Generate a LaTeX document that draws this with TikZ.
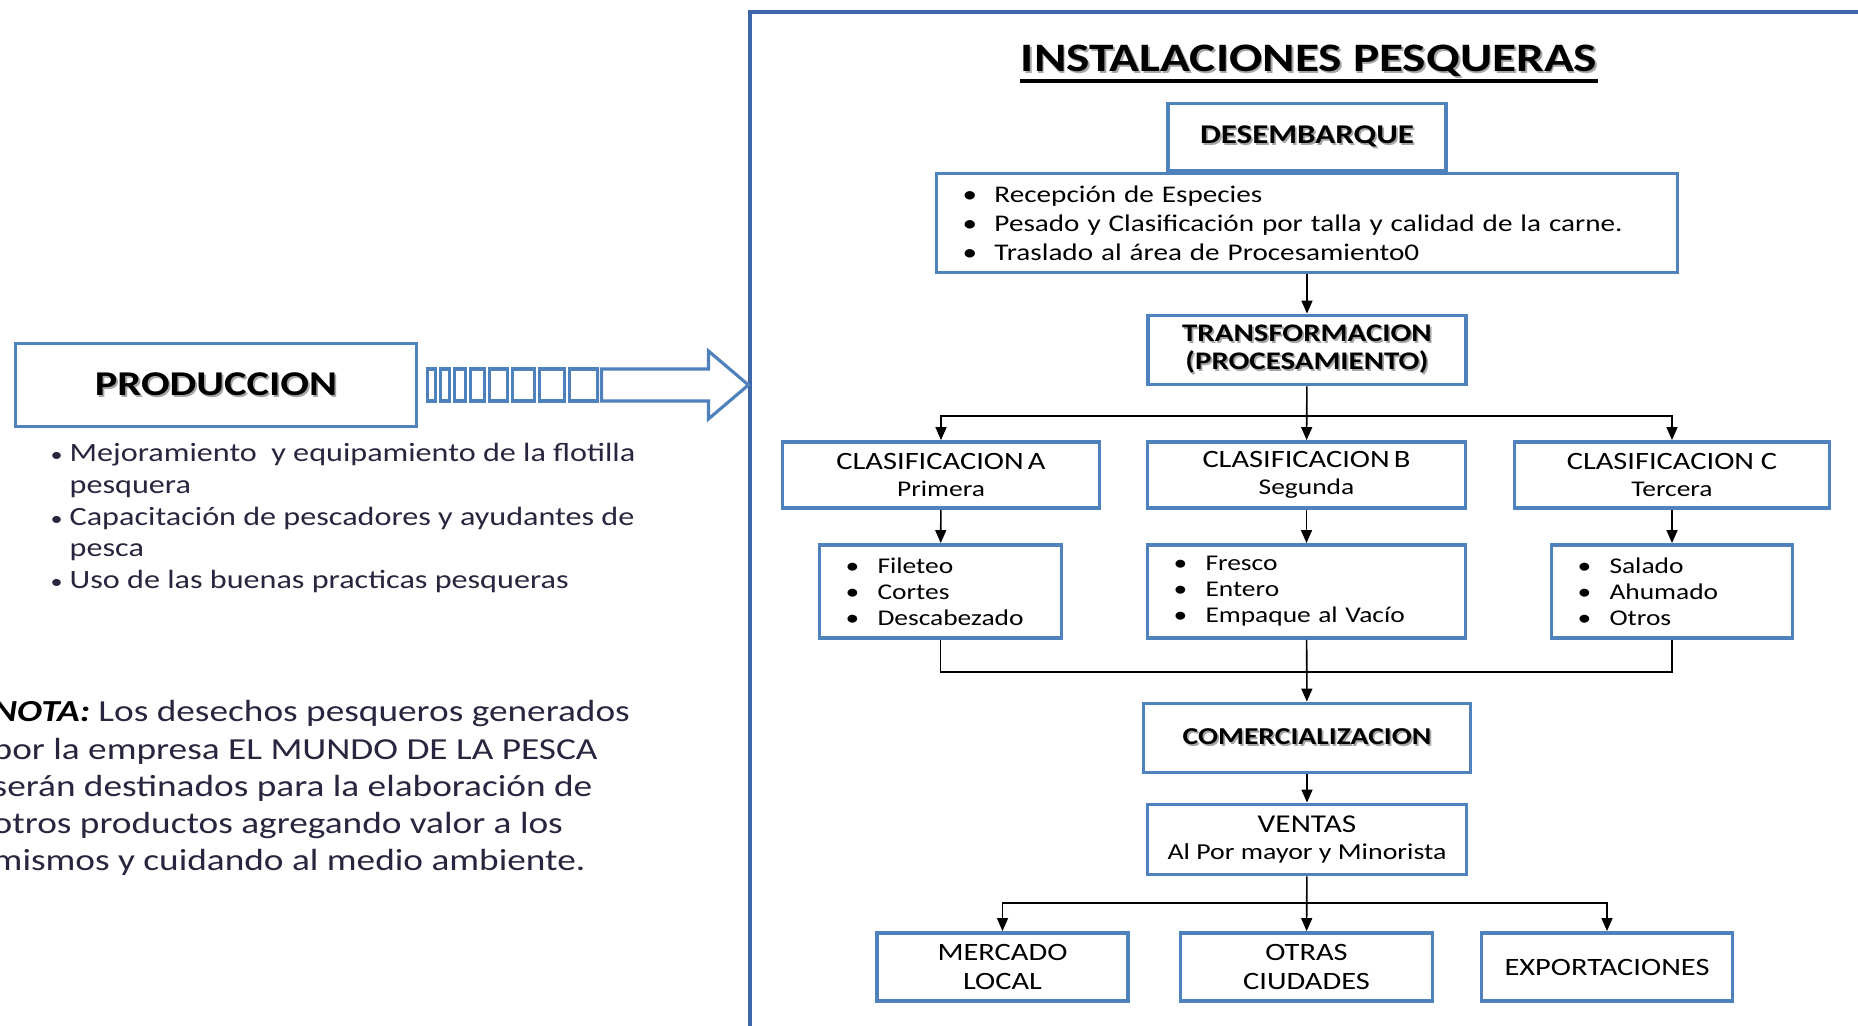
\documentclass[tikz,border=0pt]{standalone}
\usepackage{fontspec}
\setmainfont[FakeStretch=1.22]{Carlito}
\usepackage{xcolor}
\usepackage{tikz}
\usetikzlibrary{arrows.meta,positioning,calc}
\definecolor{boxblue}{RGB}{79,129,189}
\definecolor{frameblue}{RGB}{62,102,168}
\definecolor{inkblue}{RGB}{40,38,62}
\tikzset{
  box/.style={rectangle,draw=boxblue,line width=1.1pt,fill=white,align=center,inner sep=0pt},
  listbox/.style={box,align=left,inner xsep=0.26cm},
  clas/.style={box,minimum width=3.17cm,minimum height=0.66cm,font=\fontsize{7.1}{7.8}\selectfont},
  leaf/.style={box,minimum width=2.51cm,minimum height=0.68cm,font=\fontsize{7.1}{8}\selectfont},
  tiplist/.style={listbox,minimum height=0.93cm,font=\fontsize{6.4}{7.4}\selectfont},
  flow/.style={-{Triangle[length=1.3mm,width=1.1mm]},line width=0.45pt,draw=black},
  link/.style={line width=0.45pt,draw=black},
  frame/.style={draw=frameblue,line width=1.1pt},
}
\newcommand{\itm}{\makebox[0.32cm][l]{\textbullet}}
\newcommand{\pit}{\makebox[0.19cm][l]{\scalebox{0.75}{\textbullet}}}
\newcommand{\shd}[1]{\leavevmode\rlap{\hspace{0.5pt}\raisebox{-0.6pt}{\textcolor{black!35}{#1}}}#1}

\begin{document}
\begin{tikzpicture}
  \clip (0,0) rectangle (18.58,-10.26);
  \fill[white] (0,0) rectangle (18.58,-10.26);

  % right frame
  \draw[frame] (7.50,-0.12) rectangle (18.90,-10.50);
  \node[inner sep=0pt,font=\bfseries\fontsize{11.5}{13}\selectfont] (title) at (13.09,-0.62) {\shd{INSTALACIONES PESQUERAS}};
  \draw[line width=1.1pt] ([yshift=-2.6pt]title.base west) -- ([yshift=-2.6pt]title.base east);

  % main column
  \node[box,minimum width=2.78cm,minimum height=0.67cm,font=\bfseries\fontsize{7.7}{9}\selectfont] (desem) at (13.07,-1.37) {\shd{DESEMBARQUE}};
  \node[listbox,text width=6.89cm,minimum height=0.99cm,font=\fontsize{6.8}{8.25}\selectfont] (recep) at (13.07,-2.23)
    {\itm Recepción de Especies\\ \itm Pesado y Clasificación por talla y calidad de la carne.\\ \itm Traslado al área de Procesamiento0};
  \node[box,minimum width=3.18cm,minimum height=0.69cm,font=\bfseries\fontsize{7.2}{8.1}\selectfont] (transf) at (13.07,-3.50)
    {\shd{TRANSFORMACION}\\ \shd{(PROCESAMIENTO)}};

  \node[clas] (clasA) at (9.41,-4.75) {CLASIFICACION\,A\\{\fontsize{6.4}{7.8}\selectfont Primera}};
  \node[clas,minimum width=3.18cm] (clasB) at (13.065,-4.75) {CLASIFICACION\,B\\{\fontsize{6.4}{7.8}\selectfont Segunda}};
  \node[clas,minimum width=3.15cm] (clasC) at (16.72,-4.75) {CLASIFICACION C\\{\fontsize{6.4}{7.8}\selectfont Tercera}};

  \node[tiplist,text width=1.90cm] (tipA) at (9.405,-5.915) {\itm Fileteo\\ \itm Cortes\\ \itm Descabezado};
  \node[tiplist,text width=2.66cm] (tipB) at (13.065,-5.915) {\itm Fresco\\ \itm Entero\\ \itm Empaque al Vacío};
  \node[tiplist,text width=1.89cm] (tipC) at (16.72,-5.915) {\itm Salado\\ \itm Ahumado\\ \itm Otros};

  \node[box,minimum width=3.27cm,minimum height=0.69cm,font=\bfseries\fontsize{6.9}{8}\selectfont] (comer) at (13.07,-7.38) {\shd{COMERCIALIZACION}};
  \node[box,minimum width=3.19cm,minimum height=0.70cm,font=\fontsize{7.3}{7.8}\selectfont] (ventas) at (13.07,-8.395)
    {VENTAS\\{\fontsize{6.5}{7.8}\selectfont Al Por mayor y Minorista}};

  \node[leaf] (merc) at (10.025,-9.67) {MERCADO\\LOCAL};
  \node[leaf,minimum width=2.52cm] (otras) at (13.065,-9.67) {OTRAS\\CIUDADES};
  \node[leaf] (export) at (16.07,-9.67) {EXPORTACIONES};

  % connectors
  \coordinate (fork) at (13.07,-4.16);
  \coordinate (join) at (13.07,-6.72);
  \coordinate (fan) at (13.07,-9.03);
  \draw[flow] (recep) -- (transf);
  \draw[flow] (transf) -- (clasB);
  \draw[flow] (fork) -| (clasA);
  \draw[flow] (fork) -| (clasC);
  \draw[flow] (clasA) -- (tipA);
  \draw[flow] (clasB) -- (tipB);
  \draw[flow] (clasC) -- (tipC);
  \draw[link] (tipA) |- (join);
  \draw[link] (tipC) |- (join);
  \draw[flow] (tipB) -- (comer);
  \draw[flow] (comer) -- (ventas);
  \draw[flow] (ventas) -- (otras);
  \draw[flow] (fan) -| (merc);
  \draw[flow] (fan) -| (export);

  % left side
  \node[box,minimum width=4.01cm,minimum height=0.83cm,font=\bfseries\fontsize{9.9}{11}\selectfont] (prod) at (2.16,-3.85) {\shd{PRODUCCION}};
  \begin{scope}[shift={(prod.east)},color=boxblue,line width=0.9pt]
    \foreach \x/\w in {0.09/0.08,0.22/0.09,0.36/0.11,0.52/0.14,0.71/0.18,0.94/0.22,1.21/0.25,1.51/0.28}
      \draw (\x,-0.16) rectangle ++(\w,0.32);
    \draw (1.83,-0.16) -- (2.90,-0.16) -- (2.90,-0.34) -- (3.30,0) -- (2.90,0.34) -- (2.90,0.16) -- (1.83,0.16) -- cycle;
  \end{scope}

  \node[anchor=north west,align=left,inner sep=0pt,text=inkblue,font=\fontsize{7.5}{9}\selectfont] (prodlist) at (0.50,-4.43)
    {\pit Mejoramiento\ \ y equipamiento de la flotilla\\
     \hspace*{0.19cm}pesquera\\
     \pit Capacitación de pescadores y ayudantes de\\
     \hspace*{0.19cm}pesca\\
     \pit Uso de las buenas practicas pesqueras};

  \node[anchor=north west,align=left,inner sep=0pt,text=inkblue,font=\fontsize{8.7}{10.6}\selectfont] (nota) at (-0.08,-7.00)
    {\textcolor{black}{\textbf{\textit{NOTA:}}} Los desechos pesqueros generados\\
     por la empresa EL MUNDO DE LA PESCA\\
     serán destinados para la elaboración de\\
     otros productos agregando valor a los\\
     mismos y cuidando al medio ambiente.};
\end{tikzpicture}
\end{document}
